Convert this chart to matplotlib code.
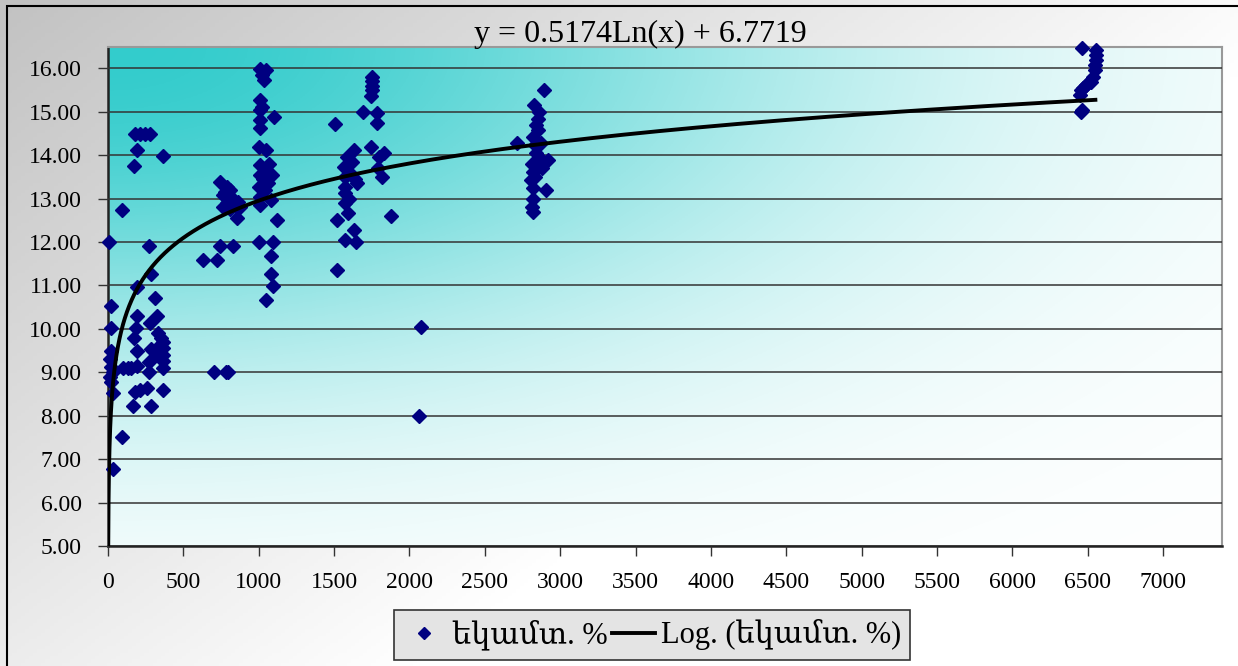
import numpy as np
import matplotlib
matplotlib.use("Agg")
import matplotlib.pyplot as plt
from matplotlib.patches import Rectangle
from matplotlib.lines import Line2D

plt.rcParams['font.family'] = ['Liberation Serif', 'DejaVu Serif']

# data (x, income %)
x_vals = [7, 95, 270, 284, 193, 310, 18, 193, 325, 22, 186, 277, 173, 350, 18, 193, 287,
          365, 365, 365, 365, 365, 22, 100, 155, 193, 270, 270, 22, 33, 177, 210, 262, 365,
          166, 288, 95, 33, 15, 30, 12, 130, 330, 340, 320,
          180, 213, 246, 280, 190, 364, 175,
          630, 722, 745, 829, 745, 790, 810, 765, 830, 865, 790, 765, 855, 810, 875, 775, 840,
          700, 796, 780,
          1010, 1045, 1020, 1035, 1010, 1020, 1010, 1100, 1010, 1010, 1000, 1045, 1010, 1065,
          1010, 1090, 1050, 1060, 1000, 1010, 1080, 1010, 1120, 1000, 1095, 1082, 1082, 1095,
          1045, 1030, 1040, 1070,
          1505, 1753, 1753, 1753, 1750, 1745, 1693, 1786, 1786, 1742, 1830, 1800, 1820, 1790,
          1631, 1587, 1565, 1575, 1575, 1575, 1653, 1600, 1620, 1575, 1590, 1520, 1631, 1575,
          1642, 1520, 1879, 1600, 1640,
          2079, 2060,
          2890, 2828, 2860, 2850, 2840, 2850, 2817, 2713, 2830, 2872, 2840, 2917, 2810, 2820,
          2805, 2905, 2820, 2820, 2810, 2820, 2880, 2860, 2830,
          6463, 6551, 6551, 6551, 6545, 6545, 6535, 6518, 6485, 6452, 6450, 6463, 6500, 6470,
          6455]
y_vals = [12.0, 12.73, 11.9, 11.26, 10.96, 10.71, 10.53, 10.3, 10.3, 10.03, 10.03, 10.13, 9.8,
          9.78, 9.5, 9.5, 9.54, 9.7, 9.55, 9.4, 9.25, 9.1, 9.13, 9.1, 9.1, 9.15, 9.24, 9.01,
          8.78, 8.52, 8.55, 8.6, 8.63, 8.59, 8.22, 8.22, 7.5, 6.77, 9.3, 9.0, 8.9, 9.1, 9.9,
          9.6, 9.4,
          14.48, 14.48, 14.48, 14.48, 14.11, 13.97, 13.75,
          11.58, 11.58, 11.9, 11.9, 13.38, 13.27, 13.2, 13.08, 13.0, 12.92, 12.9, 12.8, 12.55,
          12.75, 12.8, 13.15, 12.85,
          9.01, 9.01, 9.0,
          15.99, 15.95, 15.84, 15.72, 15.26, 15.1, 15.03, 14.88, 14.8, 14.62, 14.19, 14.11,
          13.77, 13.8, 13.54, 13.54, 13.6, 13.35, 13.27, 13.04, 12.96, 12.85, 12.5, 12.0, 12.0,
          11.67, 11.27, 10.98, 10.66, 13.45, 13.2, 13.5,
          14.71, 15.8, 15.7, 15.6, 15.5, 15.35, 14.99, 14.96, 14.74, 14.19, 14.04, 13.96, 13.5,
          13.7, 14.11, 13.96, 13.73, 13.5, 13.27, 13.12, 13.35, 13.6, 13.85, 12.89, 12.67, 12.5,
          12.27, 12.04, 12.0, 11.35, 12.6, 13.0, 13.45,
          10.05, 8.0,
          15.49, 15.15, 15.0, 14.84, 14.69, 14.57, 14.42, 14.27, 14.23, 14.27, 14.04, 13.88,
          13.8, 13.61, 13.42, 13.19, 13.25, 13.0, 12.8, 12.7, 13.7, 13.95, 13.5,
          16.47, 16.41, 16.3, 16.18, 16.07, 15.95, 15.8, 15.69, 15.61, 15.49, 15.38, 15.03,
          15.65, 15.55, 15.0]

# log trend as drawn in the picture
trend_a = 1.235
trend_b = 4.42
trend_xmax = 6550

eq_label = "y = 0.5174Ln(x) + 6.7719"
series_label = "եկամտ. %"
trend_label = "Log. (եկամտ. %)"

W, H = 1238, 666
fig = plt.figure(figsize=(W / 100, H / 100), dpi=100)

# figure background gradient (grey top-left to white)
bg = fig.add_axes([0, 0, 1, 1], zorder=-10)
gx, gy = np.meshgrid(np.linspace(0, 1, 300), np.linspace(0, 1, 200))
g = np.clip(1 - (gx * 1.2 + gy * 0.9) / 1.3, 0, 1)
grey = 0.76 + (1 - 0.76) * (1 - g)
bg.imshow(np.dstack([grey, grey, grey]), extent=[0, 1, 0, 1], origin='upper', aspect='auto')
bg.add_patch(Rectangle((7 / W, -0.1), 1.2, 1 - 6 / H + 0.1, fill=False, ec='black', lw=1.5,
                       transform=bg.transAxes))
bg.set_xlim(0, 1)
bg.set_ylim(0, 1)
bg.axis('off')

ax = fig.add_axes([108 / W, (H - 546) / H, (1222 - 108) / W, (546 - 46.5) / H])
ax.set_xlim(0, 7390)
ax.set_ylim(5, 16.5)

# plot-area gradient (teal top-left fading softly to white)
px, py = np.meshgrid(np.linspace(0, 1, 400), np.linspace(0, 1, 250))
f = np.exp(-(px ** 2 + py ** 2) / 0.39)
teal = np.array([0.20, 0.80, 0.80])
img = 1 - f[..., None] * (1 - teal)
ax.imshow(img, extent=[0, 7390, 5, 16.5], origin='upper', aspect='auto', zorder=0)

ax.set_yticks(np.arange(5, 17, 1))
ax.set_yticklabels([f"{v:.2f}" for v in np.arange(5, 17, 1)])
ax.set_xticks(np.arange(0, 7001, 500))
ax.tick_params(labelsize=17, length=7, width=1, direction='out', color='#333333')
ax.tick_params(axis='y', pad=12)
ax.tick_params(axis='x', pad=12)
ax.grid(axis='y', color='#333333', lw=1.1, zorder=1)
ax.set_axisbelow(False)
for s in ['left', 'bottom']:
    ax.spines[s].set_color('#222222')
    ax.spines[s].set_linewidth(1.8)
for s in ['top', 'right']:
    ax.spines[s].set_color('#999999')
    ax.spines[s].set_linewidth(1.5)

ax.plot(x_vals, y_vals, 'D', color='#000080', ms=7.4, mec='#000080', clip_on=False, zorder=3)

x0 = np.exp((5 - trend_b) / trend_a)
tx = np.geomspace(x0, trend_xmax, 500)
ax.plot(tx, trend_a * np.log(tx) + trend_b, color='black', lw=2.8, zorder=4)

fig.text(640 / W, 1 - 34 / H, eq_label, ha='center', va='center', fontsize=23)

handles = [Line2D([], [], ls='none', marker='D', color='#000080', ms=6),
           Line2D([], [], color='black', lw=2.8)]
leg = fig.legend(handles, [series_label, trend_label], ncol=2, loc='center',
                 bbox_to_anchor=(652 / W, 1 - 635 / H), fontsize=22, frameon=True,
                 fancybox=False, edgecolor='#333333', facecolor='#e4e4e4', framealpha=1,
                 handlelength=1.4, columnspacing=0.15, handletextpad=0.2, borderpad=0.3)
leg.get_frame().set_linewidth(1.2)

fig.savefig('out.png', dpi=100)
